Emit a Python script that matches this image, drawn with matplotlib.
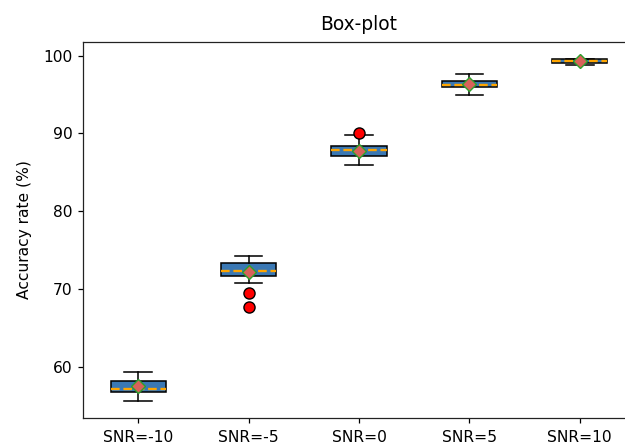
import matplotlib
matplotlib.use('Agg')
import matplotlib.pyplot as plt

# Accuracy summary per noise level
labels = ['SNR=-10', 'SNR=-5', 'SNR=0', 'SNR=5', 'SNR=10']
q1 = [56.8, 71.7, 87.15, 95.95, 99.0]
q3 = [58.15, 73.3, 88.4, 96.8, 99.55]
medians = [57.1, 72.3, 87.87, 96.23, 99.32]
means = [57.55, 72.15, 87.75, 96.35, 99.25]
whisker_low = [55.6, 70.7, 85.95, 94.9, 98.8]
whisker_high = [59.3, 74.25, 89.8, 97.6, 99.6]
outliers = [[], [69.45, 67.65], [90.0], [], []]

stats = []
for i in range(len(labels)):
    stats.append({
        'label': labels[i],
        'q1': q1[i], 'q3': q3[i], 'med': medians[i], 'mean': means[i],
        'whislo': whisker_low[i], 'whishi': whisker_high[i],
        'fliers': outliers[i],
    })

s = 1.12  # scale for fonts and lines
plt.rcParams['font.family'] = 'DejaVu Sans'

fig = plt.figure(figsize=(6.25, 4.46), dpi=100)
ax = fig.add_axes([0.1328, 0.0635, 0.8832, 0.8417])

ax.bxp(stats, showmeans=True, patch_artist=True, widths=0.5,
       boxprops=dict(facecolor='#3a78b4', edgecolor='black', linewidth=1.0 * s),
       medianprops=dict(color='orange', linestyle='--', linewidth=1.5 * s),
       meanprops=dict(marker='D', markerfacecolor='#d8625a',
                      markeredgecolor='#2ca02c', markersize=6 * s),
       whiskerprops=dict(color='black', linewidth=1.0 * s),
       capprops=dict(color='black', linewidth=1.0 * s),
       flierprops=dict(marker='o', markerfacecolor='red',
                       markeredgecolor='black', markersize=8))

ax.set_xlim(0.5, 5.5)
ax.set_ylim(53.44, 101.72)
ax.set_yticks([60, 70, 80, 90, 100])
ax.set_title('Box-plot', fontsize=12 * s, pad=9)
ax.set_ylabel('Accuracy rate (%)', fontsize=10 * s, labelpad=8)
ax.tick_params(labelsize=10 * s, length=3.5 * s, width=0.8 * s)
ax.tick_params(axis='x', pad=5)
for sp in ax.spines.values():
    sp.set_linewidth(0.8 * s)
    sp.set_color('#222222')
ax.spines['right'].set_visible(False)

fig.savefig('out.png', dpi=100)
